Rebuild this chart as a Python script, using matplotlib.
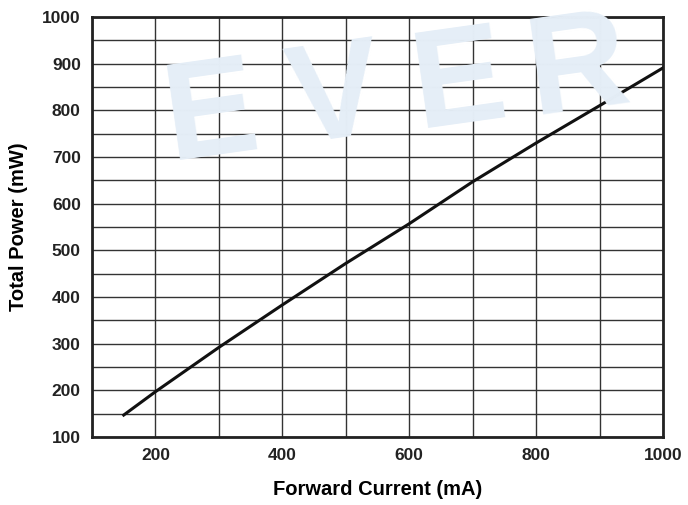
import numpy as np
import matplotlib.pyplot as plt

plt.rcParams['font.family'] = ['Liberation Sans', 'DejaVu Sans']

current = [150, 200, 300, 400, 500, 600, 700, 800, 900, 1000]
power = [147, 197, 292, 383, 472, 557, 647, 730, 810, 891]

xticks = [200, 400, 600, 800, 1000]
yticks = [100, 200, 300, 400, 500, 600, 700, 800, 900, 1000]

fig = plt.figure(figsize=(6.88, 5.05), dpi=100)
ax = fig.add_axes([0.1337, 0.1347, 0.830, 0.8316])
ax.set_facecolor('none')

# faint watermark, letter by letter so it spreads like the original
W, H = 688, 505
for ch, px in zip('EVER', [212, 335, 460, 578]):
    py = 118 - 0.13 * (px - 212)
    fig.text(px / W, 1 - py / H, ch, fontsize=100, fontweight='bold',
             color='#e5eef7', rotation=8, ha='center', va='center', zorder=0)

ax.plot(current, power, color='#111111', lw=2.2, zorder=3)

ax.set_xlim(100, 1000)
ax.set_ylim(100, 1000)
ax.set_xticks(np.arange(100, 1001, 100))
ax.set_xticklabels([str(v) if v in xticks else '' for v in range(100, 1001, 100)])
ax.set_yticks(np.arange(100, 1001, 50))
ax.set_yticklabels([str(v) if v in yticks else '' for v in range(100, 1001, 50)])
ax.grid(True, color='#333333', lw=1.0, zorder=1)
ax.set_axisbelow(True)
ax.tick_params(length=0, labelsize=12.5, pad=8)
for lab in ax.get_xticklabels() + ax.get_yticklabels():
    lab.set_fontweight('bold')
    lab.set_color('#222222')
for s in ax.spines.values():
    s.set_linewidth(2)
    s.set_color('#222222')

ax.set_xlabel('Forward Current (mA)', fontsize=14.5, fontweight='bold', labelpad=12)
ax.set_ylabel('Total Power (mW)', fontsize=14.5, fontweight='bold', labelpad=10)

fig.savefig('out.png', dpi=100)
